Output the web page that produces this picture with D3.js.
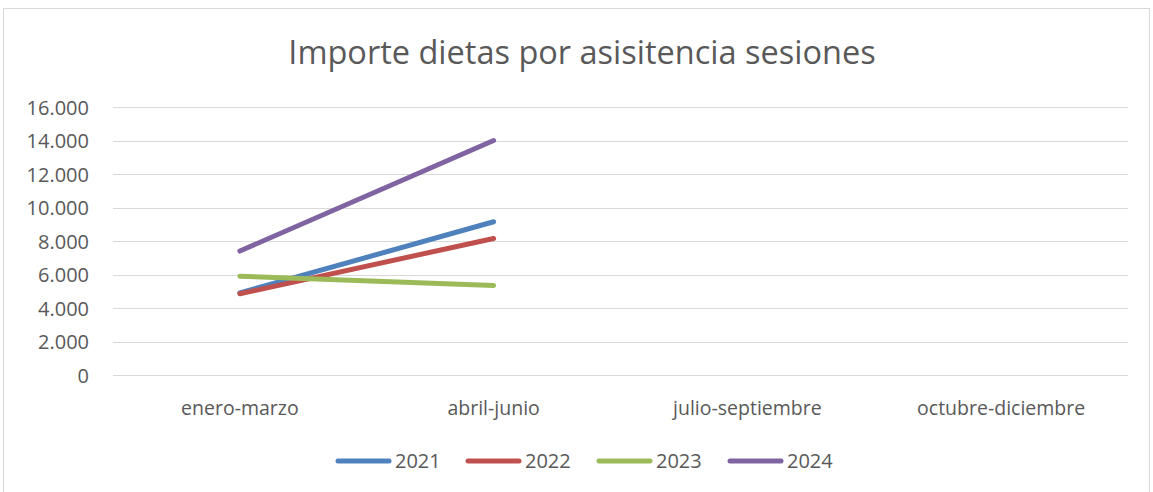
<!DOCTYPE html>
<html>
<head>
<meta charset="utf-8">
<script src="https://cdn.jsdelivr.net/npm/d3@7"></script>
<style>
  html, body { margin: 0; padding: 0; background: #fff; }
  svg { display: block; }
  text { font-family: "Open Sans", sans-serif; fill: #595959; }
</style>
</head>
<body>
<svg id="chart" width="1153" height="492"></svg>
<script>
const title = "Importe dietas por asisitencia sesiones";
const categories = ["enero-marzo", "abril-junio", "julio-septiembre", "octubre-diciembre"];
const seriesNames = ["2021", "2022", "2023", "2024"];
const values2021 = [4900, 9150, null, null];
const values2022 = [4850, 8150, null, null];
const values2023 = [5900, 5350, null, null];
const values2024 = [7400, 14000, null, null];
const yTicks = [0, 2000, 4000, 6000, 8000, 10000, 12000, 14000, 16000];
const colors = ["#4F81BD", "#C0504D", "#9BBB59", "#8064A2"];

const series = [values2021, values2022, values2023, values2024].map((v, i) => ({ name: seriesNames[i], values: v, color: colors[i] }));

const svg = d3.select("#chart");
const plot = { left: 113, right: 1128, top: 107, bottom: 375 };

// chart border
svg.append("rect").attr("x", 3.5).attr("y", 8.5).attr("width", 1146).attr("height", 495)
  .attr("fill", "#fff").attr("stroke", "#d9d9d9").attr("stroke-width", 1);

const x = d3.scaleBand().domain(categories).range([plot.left, plot.right]).padding(0);
const y = d3.scaleLinear().domain([0, 16000]).range([plot.bottom, plot.top]);

// gridlines
svg.append("g").selectAll("line").data(yTicks).join("line")
  .attr("x1", plot.left).attr("x2", plot.right)
  .attr("y1", d => Math.round(y(d)) + 0.5).attr("y2", d => Math.round(y(d)) + 0.5)
  .attr("stroke", "#d9d9d9").attr("stroke-width", 1);

// y axis labels
const fmt = d => d === 0 ? "0" : d3.format(",")(d).replace(/,/g, ".");
const yAxis = d3.axisLeft(y).tickValues(yTicks).tickFormat(fmt).tickSize(0).tickPadding(0);
const gy = svg.append("g").attr("transform", `translate(89,0)`).call(yAxis);
gy.select(".domain").remove();
gy.selectAll("text").attr("font-family", "Open Sans").attr("font-size", 20).attr("fill", "#595959").attr("dy", "0.35em");

// x axis labels
const xAxis = d3.axisBottom(x).tickSize(0).tickPadding(0);
const gx = svg.append("g").attr("transform", `translate(0,${plot.bottom + 25})`).call(xAxis);
gx.select(".domain").remove();
gx.selectAll("text").attr("font-family", "Open Sans").attr("font-size", 19.5).attr("fill", "#595959").attr("dy", "0.35em").attr("y", 8);

// lines
const line = d3.line()
  .defined(d => d.v != null)
  .x(d => x(d.c) + x.bandwidth() / 2)
  .y(d => y(d.v));

svg.append("g").selectAll("path").data(series).join("path")
  .attr("d", s => line(s.values.map((v, i) => ({ c: categories[i], v }))))
  .attr("fill", "none").attr("stroke", s => s.color).attr("stroke-width", 5)
  .attr("stroke-linecap", "round").attr("stroke-linejoin", "round");

// title
svg.append("text").attr("x", 582).attr("y", 64).attr("text-anchor", "middle")
  .attr("font-size", 32.5).text(title);

// legend
const legendX = [336, 466, 597, 728];
const lg = svg.append("g").selectAll("g").data(series).join("g")
  .attr("transform", (d, i) => `translate(${legendX[i]},461)`);
lg.append("line").attr("x1", 2).attr("x2", 53).attr("y1", 0).attr("y2", 0)
  .attr("stroke", d => d.color).attr("stroke-width", 5).attr("stroke-linecap", "round");
lg.append("text").attr("x", 59).attr("y", 0).attr("dy", "0.35em").attr("font-size", 20).text(d => d.name);
</script>
</body>
</html>
